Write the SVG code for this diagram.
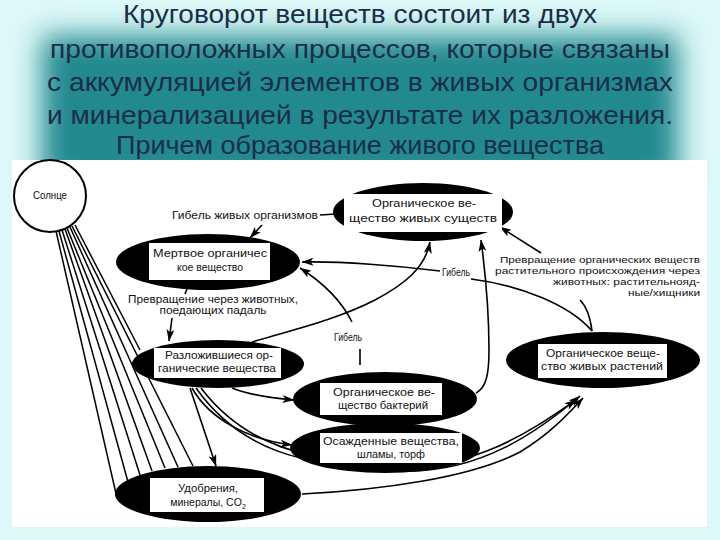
<svg xmlns="http://www.w3.org/2000/svg" width="720" height="540" viewBox="0 0 720 540">
<defs>
<filter id="blur" x="-20%" y="-40%" width="140%" height="180%"><feGaussianBlur stdDeviation="14"/></filter>
<marker id="ah" viewBox="0 0 12 8" refX="11.5" refY="4" markerWidth="12" markerHeight="8" orient="auto" markerUnits="userSpaceOnUse"><path d="M0,0 L12,4 L0,8 L3,4 z" fill="#000"/></marker>
<style>
.title{font-family:"Liberation Sans Narrow","Liberation Sans",Arial,sans-serif;font-size:26px;fill:#1b2d48;text-anchor:middle}
.ell{fill:#000}
.box{fill:#fff}
.t{font-family:"Liberation Sans",Arial,sans-serif;font-size:10.5px;fill:#111;text-anchor:middle}
.lbl{font-family:"Liberation Sans",Arial,sans-serif;font-size:10.5px;fill:#111;text-anchor:middle}
.lblr{font-family:"Liberation Sans",Arial,sans-serif;font-size:9px;fill:#111;text-anchor:end}
.c{fill:none;stroke:#000;stroke-width:1.6}
.ray{fill:none;stroke:#000;stroke-width:1.5}
</style>
</defs>
<rect x="0" y="0" width="720" height="540" fill="#dcf8f7"/>
<rect x="42" y="36" width="636" height="150" fill="#23898f" filter="url(#blur)"/>
<g id="title">
<text class="title" x="360" y="23" textLength="474" lengthAdjust="spacingAndGlyphs">Круговорот веществ состоит из двух</text>
<text class="title" x="360" y="58" textLength="620" lengthAdjust="spacingAndGlyphs">противоположных процессов, которые связаны</text>
<text class="title" x="360" y="91" textLength="626" lengthAdjust="spacingAndGlyphs">с аккумуляцией элементов в живых организмах</text>
<text class="title" x="360" y="124" textLength="626" lengthAdjust="spacingAndGlyphs">и минерализацией в результате их разложения.</text>
<text class="title" x="360" y="154" textLength="488" lengthAdjust="spacingAndGlyphs">Причем образование живого вещества</text>
</g>
<rect x="12" y="160" width="695" height="367" fill="#fff"/>
<g id="connectors">
<path class="ray" d="M56,231 L117,498"/>
<path class="ray" d="M59,231 L128,482"/>
<path class="ray" d="M62,230 L140,475"/>
<path class="ray" d="M65,229 L152,471"/>
<path class="ray" d="M67,228 L165,468"/>
<path class="ray" d="M70,227 L178,467"/>
<path class="ray" d="M72,226 L193,466"/>
<path class="ray" d="M75,225 L140,350"/>
<path class="c" d="M336,214 L320,215"/>
<path class="c" d="M262,225 L250,238" marker-end="url(#ah)"/>
<path class="c" d="M592,331 C570,305 520,285 471,279"/>
<path class="c" d="M440,271 C400,266 340,261 302,262" marker-end="url(#ah)"/>
<path class="c" d="M360,349 L360,365"/>
<path class="c" d="M352,322 C340,298 322,282 300,268" marker-end="url(#ah)"/>
<path class="c" d="M252,342 C300,328 340,318 375,300 C405,284 425,268 430,242" marker-end="url(#ah)"/>
<path class="c" d="M476,393 C486,388 489,375 489,350 C489,310 485,270 481,240" marker-end="url(#ah)"/>
<path class="c" d="M592,331 C590,315 585,305 580,300"/>
<path class="c" d="M541,253 L500,227" marker-end="url(#ah)"/>
<path class="c" d="M187,289 L185,294"/>
<path class="c" d="M172,318 L169,341" marker-end="url(#ah)"/>
<path class="c" d="M232,388 C250,395 270,398 294,400" marker-end="url(#ah)"/>
<path class="c" d="M192,388 C210,420 250,440 292,445" marker-end="url(#ah)"/>
<path class="c" d="M190,388 L216,466" marker-end="url(#ah)"/>
<path class="c" d="M196,388 C240,450 300,466 400,471 C480,474 540,430 580,396" marker-end="url(#ah)"/>
<path class="c" d="M201,388 C245,446 305,461 400,466 C478,469 535,428 576,400" marker-end="url(#ah)"/>
<path class="c" d="M302,494 C380,490 470,478 520,452 C550,434 568,414 583,398" marker-end="url(#ah)"/>
</g>
<g id="sun">
<circle cx="50" cy="196" r="36" fill="#fff" stroke="#000" stroke-width="2"/>
<text class="t" x="50" y="199" textLength="34" lengthAdjust="spacingAndGlyphs">Солнце</text>
</g>
<g id="living-beings">
<ellipse class="ell" cx="423" cy="212" rx="90" ry="29"/>
<rect class="box" x="344" y="194" width="158" height="38"/>
<text class="t" x="424" y="207" textLength="104" lengthAdjust="spacingAndGlyphs">Органическое ве-</text>
<text class="t" x="423" y="222" textLength="148" lengthAdjust="spacingAndGlyphs">щество живых существ</text>
</g>
<g id="dead-matter">
<ellipse class="ell" cx="208" cy="262" rx="92" ry="28"/>
<rect class="box" x="149" y="243" width="121" height="37"/>
<text class="t" x="210" y="257" textLength="114" lengthAdjust="spacingAndGlyphs">Мертвое органичес</text>
<text class="t" x="210" y="271" textLength="66" lengthAdjust="spacingAndGlyphs">кое вещество</text>
</g>
<g id="decomposed">
<ellipse class="ell" cx="218" cy="364" rx="86" ry="24"/>
<rect class="box" x="154" y="348" width="127" height="30"/>
<text class="t" x="219" y="359" textLength="108" lengthAdjust="spacingAndGlyphs">Разложившиеся ор-</text>
<text class="t" x="217" y="372" textLength="118" lengthAdjust="spacingAndGlyphs">ганические вещества</text>
</g>
<g id="bacteria">
<ellipse class="ell" cx="385" cy="399" rx="92" ry="27"/>
<rect class="box" x="320" y="383" width="122" height="32"/>
<text class="t" x="384" y="396" textLength="102" lengthAdjust="spacingAndGlyphs">Органическое ве-</text>
<text class="t" x="383" y="409" textLength="90" lengthAdjust="spacingAndGlyphs">щество бактерий</text>
</g>
<g id="sediment">
<ellipse class="ell" cx="385" cy="448" rx="95" ry="25"/>
<rect class="box" x="320" y="433" width="142" height="30"/>
<text class="t" x="391" y="445" textLength="136" lengthAdjust="spacingAndGlyphs">Осажденные вещества,</text>
<text class="t" x="391" y="458" textLength="68" lengthAdjust="spacingAndGlyphs">шламы, торф</text>
</g>
<g id="plants">
<ellipse class="ell" cx="603" cy="360" rx="97" ry="28"/>
<rect class="box" x="538" y="344" width="129" height="34"/>
<text class="t" x="603" y="357" textLength="114" lengthAdjust="spacingAndGlyphs">Органическое веще-</text>
<text class="t" x="602" y="370" textLength="122" lengthAdjust="spacingAndGlyphs">ство живых растений</text>
</g>
<g id="fertilizer">
<ellipse class="ell" cx="208" cy="494" rx="93" ry="28"/>
<rect class="box" x="150" y="478" width="114" height="34"/>
<text class="t" x="208" y="492" textLength="60" lengthAdjust="spacingAndGlyphs">Удобрения,</text>
<text class="t" x="208" y="506">минералы, CO<tspan font-size="7" dy="3">2</tspan></text>
</g>
<g id="labels">
<text class="lbl" x="245" y="219" textLength="146" lengthAdjust="spacingAndGlyphs">Гибель живых организмов</text>
<text class="lbl" x="213" y="303" textLength="170" lengthAdjust="spacingAndGlyphs">Превращение через животных,</text>
<text class="lbl" x="213" y="314" textLength="107" lengthAdjust="spacingAndGlyphs">поедающих падаль</text>
<text class="lbl" x="456" y="276" textLength="28" lengthAdjust="spacingAndGlyphs">Гибель</text>
<text class="lbl" x="348" y="341" textLength="28" lengthAdjust="spacingAndGlyphs">Гибель</text>
<text class="lblr" x="700" y="263" textLength="200" lengthAdjust="spacingAndGlyphs">Превращение органических веществ</text>
<text class="lblr" x="700" y="274" textLength="205" lengthAdjust="spacingAndGlyphs">растительного происхождения через</text>
<text class="lblr" x="700" y="285" textLength="147" lengthAdjust="spacingAndGlyphs">животных: растительнояд-</text>
<text class="lblr" x="700" y="296" textLength="72" lengthAdjust="spacingAndGlyphs">ные/хищники</text>
</g>
</svg>
